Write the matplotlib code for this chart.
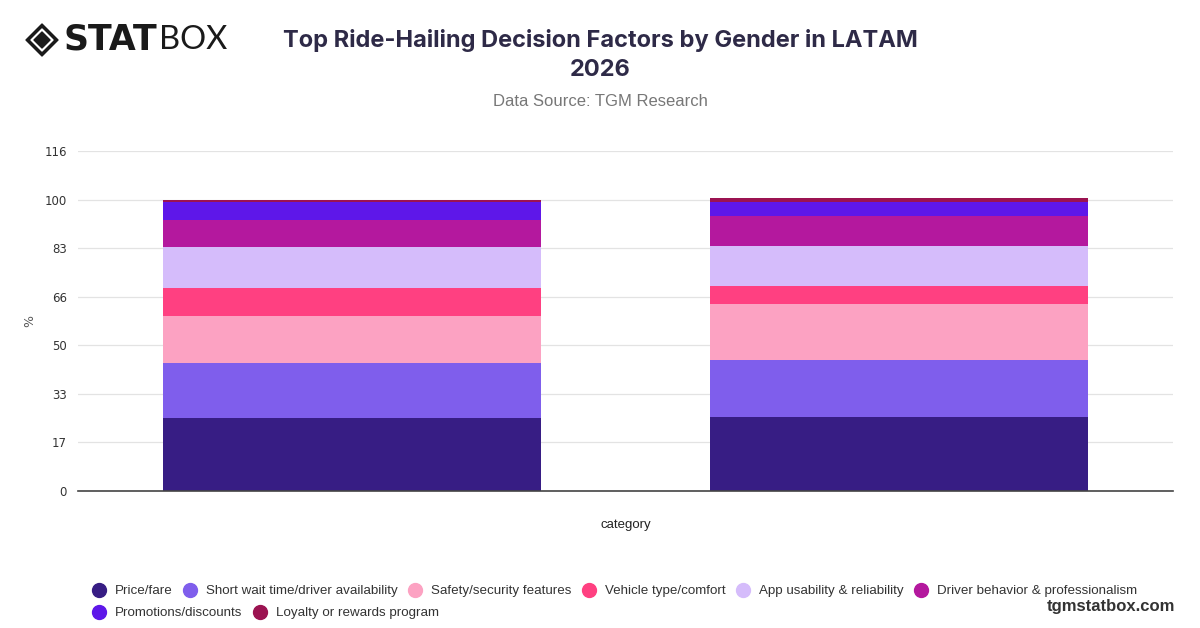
import numpy as np
import matplotlib.pyplot as plt
from matplotlib.lines import Line2D
from matplotlib.patches import Polygon

# data
groups = ["Female", "Male"]
factors = ["Price/fare", "Short wait time/driver availability", "Safety/security features",
           "Vehicle type/comfort", "App usability & reliability",
           "Driver behavior & professionalism", "Promotions/discounts",
           "Loyalty or rewards program"]
values_g1 = [25.0, 18.6, 16.2, 9.4, 14.0, 9.1, 6.3, 0.7]
values_g2 = [25.1, 19.6, 19.0, 6.3, 13.6, 10.2, 4.9, 1.1]
colors = ["#371d84", "#7f5eec", "#fca2c2", "#ff4081", "#d5bcfb",
          "#b4189e", "#5e17e9", "#9b1351"]
ytick_labels = ["0", "17", "33", "50", "66", "83", "100", "116"]

fig = plt.figure(figsize=(12, 6.28), dpi=100)
ax = fig.add_axes([0.065, 0.2182, 0.9125, 0.5414])

x = np.arange(len(groups))
bottom = np.zeros(len(groups))
for i, name in enumerate(factors):
    vals = np.array([values_g1[i], values_g2[i]])
    ax.bar(x, vals, 0.69, bottom=bottom, color=colors[i], label=name, zorder=3)
    bottom += vals

ax.set_xlim(-0.5, 1.5)
ax.set_ylim(0, 116)
ax.set_yticks(np.linspace(0, 116, 8))
ax.set_yticklabels(ytick_labels)
ax.set_xticks([])
ax.tick_params(axis="y", length=0, pad=8, labelsize=8.5, labelcolor="#333333")
ax.grid(axis="y", color="#e3e3e3", linewidth=0.9, zorder=0)
for s in ["left", "right", "top"]:
    ax.spines[s].set_visible(False)
ax.spines["bottom"].set_color("#444444")
ax.spines["bottom"].set_linewidth(1.2)
ax.spines["bottom"].set_zorder(4)
ax.set_xlabel("category", fontsize=9.5, color="#222222", labelpad=20,
              family="Liberation Sans")
ax.set_ylabel("%", fontsize=9, color="#555555")
ax.yaxis.set_label_coords(-0.038, 0.5)

# titles
fig.text(0.5, 1 - 40 / 628, "Top Ride-Hailing Decision Factors by Gender in LATAM",
         ha="center", va="center", fontsize=17, fontweight="bold",
         family="Inter", color="#2e2a47")
fig.text(0.5, 1 - 70 / 628, "2026", ha="center", va="center", fontsize=17,
         fontweight="bold", family="Inter", color="#2e2a47")
fig.text(0.5, 1 - 101 / 628, "Data Source: TGM Research", ha="center", va="center",
         fontsize=12, family="Liberation Sans", color="#777777")

# legend, two rows in flow layout
def handle(c):
    return Line2D([], [], marker="o", linestyle="", markersize=10,
                  markerfacecolor=c, markeredgecolor=c)

kw = dict(frameon=False, handletextpad=0.7, columnspacing=0.8,
          handlelength=1.0, borderaxespad=0, borderpad=0,
          prop={"family": "Liberation Sans", "size": 9.6})
leg1 = fig.legend([handle(c) for c in colors[:6]], factors[:6], ncol=6,
                  loc="center left", bbox_to_anchor=(0.077, 1 - 591 / 628), **kw)
for t in leg1.get_texts():
    t.set_color("#333333")
leg2 = fig.legend([handle(c) for c in colors[6:]], factors[6:], ncol=2,
                  loc="center left", bbox_to_anchor=(0.077, 1 - 613 / 628), **kw)
for t in leg2.get_texts():
    t.set_color("#333333")

fig.text(1175 / 1200, 1 - 606 / 628, "tgmstatbox.com", ha="right", va="center",
         fontsize=12, fontweight="bold", family="Liberation Sans", color="#333333")

# logo
cx, cy = 42 / 1200, 1 - 40 / 628
def diamond(r, color):
    rx, ry = r / 1200, r / 628
    return Polygon([[cx - rx, cy], [cx, cy + ry], [cx + rx, cy], [cx, cy - ry]],
                   closed=True, transform=fig.transFigure, color=color,
                   joinstyle="round")
fig.patches.append(diamond(16, "#1a1a1a"))
fig.patches.append(diamond(11, "white"))
fig.patches.append(diamond(8, "#1a1a1a"))
fig.text(63 / 1200, cy, "STAT", ha="left", va="center", fontsize=25,
         fontweight="heavy", family="DejaVu Sans", color="#1a1a1a")
fig.text(159 / 1200, cy, "BOX", ha="left", va="center", fontsize=23.5,
         fontweight="normal", family="Lato", color="#1a1a1a")

fig.savefig("out.png", dpi=100, facecolor="white")
